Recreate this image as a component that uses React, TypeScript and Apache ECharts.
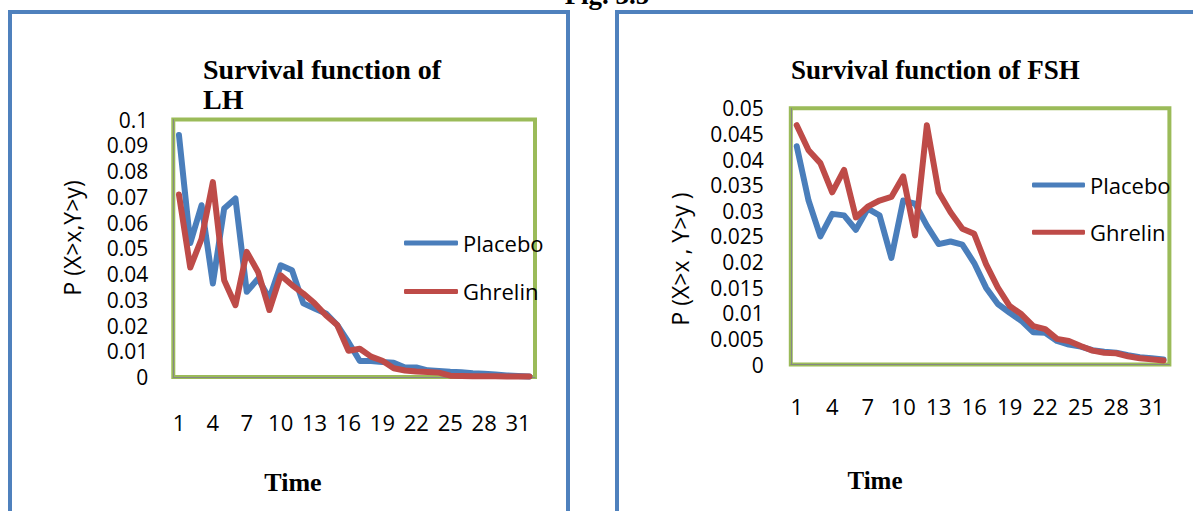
import React, { useEffect, useRef } from "react";
import * as echarts from "echarts";

const timeCategories = [
  "1", "2", "3", "4", "5", "6", "7", "8", "9", "10", "11", "12", "13", "14", "15", "16",
  "17", "18", "19", "20", "21", "22", "23", "24", "25", "26", "27", "28", "29", "30", "31", "32",
];

const lhPlacebo = [
  0.094, 0.052, 0.0667, 0.0363, 0.0654, 0.0693, 0.0331, 0.0382, 0.0305, 0.0434, 0.0415, 0.0286,
  0.0266, 0.0247, 0.0202, 0.0135, 0.0062, 0.0062, 0.0058, 0.0055, 0.0037, 0.0037, 0.0026, 0.0023,
  0.002, 0.0018, 0.0015, 0.0013, 0.001, 0.0006, 0.0004, 0.0002,
];
const lhGhrelin = [
  0.0709, 0.0425, 0.0537, 0.0757, 0.0376, 0.0279, 0.0486, 0.0408, 0.026, 0.0395, 0.0357, 0.0324,
  0.0286, 0.024, 0.0202, 0.0102, 0.011, 0.0079, 0.0063, 0.0034, 0.0025, 0.0021, 0.0019, 0.0017,
  0.0005, 0.0004, 0.0003, 0.0003, 0.0003, 0.0002, 0.0002, 0.0002,
];
const fshPlacebo = [
  0.0426, 0.032, 0.025, 0.0294, 0.0291, 0.0263, 0.0304, 0.0291, 0.0208, 0.032, 0.0314, 0.0271,
  0.0235, 0.024, 0.0234, 0.0198, 0.015, 0.0118, 0.0101, 0.0085, 0.0063, 0.0062, 0.0046, 0.0039,
  0.0035, 0.0028, 0.0025, 0.0023, 0.0018, 0.0014, 0.0012, 0.001,
];
const fshGhrelin = [
  0.0467, 0.0418, 0.0393, 0.0336, 0.038, 0.0287, 0.0308, 0.032, 0.0327, 0.0367, 0.0252, 0.0467,
  0.0336, 0.0297, 0.0265, 0.0255, 0.0196, 0.015, 0.0114, 0.0098, 0.0075, 0.0069, 0.005, 0.0046,
  0.0036, 0.0027, 0.0023, 0.0022, 0.0016, 0.0012, 0.001, 0.0008,
];

const seriesNames = ["Placebo", "Ghrelin"];
const figLabel = "Fig. 3.5";
const lhTitleLines = ["Survival function of", "LH"];
const fshTitle = "Survival function of FSH";
const lhYName = "P (X>x,Y>y)";
const fshYName = "P (X>x , Y>y )";
const xName = "Time";

const BLUE = "#4A7EBB";
const RED = "#BE4B48";
const GREEN = "#9BBB59";
const PANEL = "#4F81BD";
const SANS = "'Open Sans', 'Noto Sans', sans-serif";
const SERIF = "'Liberation Serif', 'DejaVu Serif', serif";

export default function App() {
  const ref = useRef<HTMLDivElement>(null);

  useEffect(() => {
    if (!ref.current) return;
    const chart = echarts.init(ref.current, null, { renderer: "svg" });

    const axisLabel = { color: "#000", fontFamily: SANS, fontSize: 22, lineHeight: 22 };
    const yAxisLabel = { color: "#000", fontFamily: SANS, fontSize: 21, lineHeight: 21 };
    const lineSeries = (name: string, color: string, data: number[], idx: number) => ({
      name,
      type: "line",
      xAxisIndex: idx,
      yAxisIndex: idx,
      data,
      symbol: "none",
      showSymbol: false,
      color,
      itemStyle: { color },
      lineStyle: { color, width: 6, cap: "round", join: "round" },
      z: name === "Placebo" ? 2 : 3,
    });

    const titleText = (text: string, x: number, y: number, size: number) => ({
      type: "text",
      x,
      y,
      style: {
        text,
        fontFamily: SERIF,
        fontWeight: "bold",
        fontSize: size,
        fill: "#000",
        align: "left",
        verticalAlign: "middle",
      },
    });
    const centerText = (text: string, x: number, y: number, size: number) => ({
      type: "text",
      x,
      y,
      style: {
        text,
        fontFamily: SERIF,
        fontWeight: "bold",
        fontSize: size,
        fill: "#000",
        align: "center",
        verticalAlign: "middle",
      },
    });
    const yNameText = (text: string, x: number, y: number) => ({
      type: "text",
      x,
      y,
      rotation: Math.PI / 2,
      style: {
        text,
        fontFamily: SANS,
        fontSize: 23,
        fill: "#000",
        align: "center",
        verticalAlign: "middle",
      },
    });

    const legendData = [
      { name: seriesNames[0], icon: "roundRect", itemStyle: { color: BLUE } },
      { name: seriesNames[1], icon: "roundRect", itemStyle: { color: RED } },
    ];

    chart.setOption({
      animation: false,
      backgroundColor: "#fff",
      grid: [
        {
          left: 173.3,
          top: 119.5,
          width: 361.7,
          height: 257.5,
          show: true,
          borderColor: GREEN,
          borderWidth: 4,
          backgroundColor: "transparent",
        },
        {
          left: 790.8,
          top: 108.3,
          width: 378.6,
          height: 256.2,
          show: true,
          borderColor: GREEN,
          borderWidth: 4,
          backgroundColor: "transparent",
        },
      ],
      xAxis: [
        {
          type: "category",
          gridIndex: 0,
          data: timeCategories,
          boundaryGap: true,
          axisLine: { show: true, lineStyle: { color: "#868686", width: 1 } },
          axisTick: { show: false },
          axisLabel: { ...axisLabel, interval: 2, margin: 34 },
        },
        {
          type: "category",
          gridIndex: 1,
          data: timeCategories,
          boundaryGap: true,
          axisLine: { show: true, lineStyle: { color: "#868686", width: 1 } },
          axisTick: { show: false },
          axisLabel: { ...axisLabel, interval: 2, margin: 30 },
        },
      ],
      yAxis: [
        {
          type: "value",
          gridIndex: 0,
          min: 0,
          max: 0.1,
          interval: 0.01,
          axisLine: { show: true, lineStyle: { color: "#868686", width: 1 } },
          axisTick: { show: false },
          splitLine: { show: false },
          axisLabel: { ...yAxisLabel, margin: 25 },
        },
        {
          type: "value",
          gridIndex: 1,
          min: 0,
          max: 0.05,
          interval: 0.005,
          axisLine: { show: true, lineStyle: { color: "#868686", width: 1 } },
          axisTick: { show: false },
          splitLine: { show: false },
          axisLabel: { ...yAxisLabel, margin: 27 },
        },
      ],
      legend: [
        {
          orient: "vertical",
          left: 399,
          top: 227,
          itemWidth: 54,
          itemHeight: 5,
          itemGap: 26.4,
          data: legendData,
          textStyle: { color: "#000", fontFamily: SANS, fontSize: 22, lineHeight: 22 },
        },
        {
          orient: "vertical",
          left: 1027,
          top: 169,
          itemWidth: 53,
          itemHeight: 5,
          itemGap: 25.3,
          data: legendData,
          textStyle: { color: "#000", fontFamily: SANS, fontSize: 22, lineHeight: 22 },
        },
      ],
      series: [
        lineSeries(seriesNames[0], BLUE, lhPlacebo, 0),
        lineSeries(seriesNames[1], RED, lhGhrelin, 0),
        lineSeries(seriesNames[0], BLUE, fshPlacebo, 1),
        lineSeries(seriesNames[1], RED, fshGhrelin, 1),
      ],
      graphic: [
        {
          type: "rect",
          shape: { x: 10, y: 12, width: 558, height: 620 },
          style: { fill: "none", stroke: PANEL, lineWidth: 4 },
          silent: true,
        },
        {
          type: "rect",
          shape: { x: 617, y: 12, width: 700, height: 620 },
          style: { fill: "none", stroke: PANEL, lineWidth: 4 },
          silent: true,
        },
        centerText(figLabel, 607, -5, 27),
        titleText(lhTitleLines[0], 203, 69.5, 28),
        titleText(lhTitleLines[1], 203, 99.5, 28),
        titleText(fshTitle, 791, 70, 27),
        centerText(xName, 293, 482.5, 26),
        centerText(xName, 875, 480, 25),
        yNameText(lhYName, 72, 238),
        yNameText(fshYName, 680, 259),
      ],
    });

    return () => chart.dispose();
  }, []);

  return (
    <div
      ref={ref}
      style={{ position: "absolute", left: 0, top: 0, width: 1193, height: 511, background: "#fff" }}
    />
  );
}
